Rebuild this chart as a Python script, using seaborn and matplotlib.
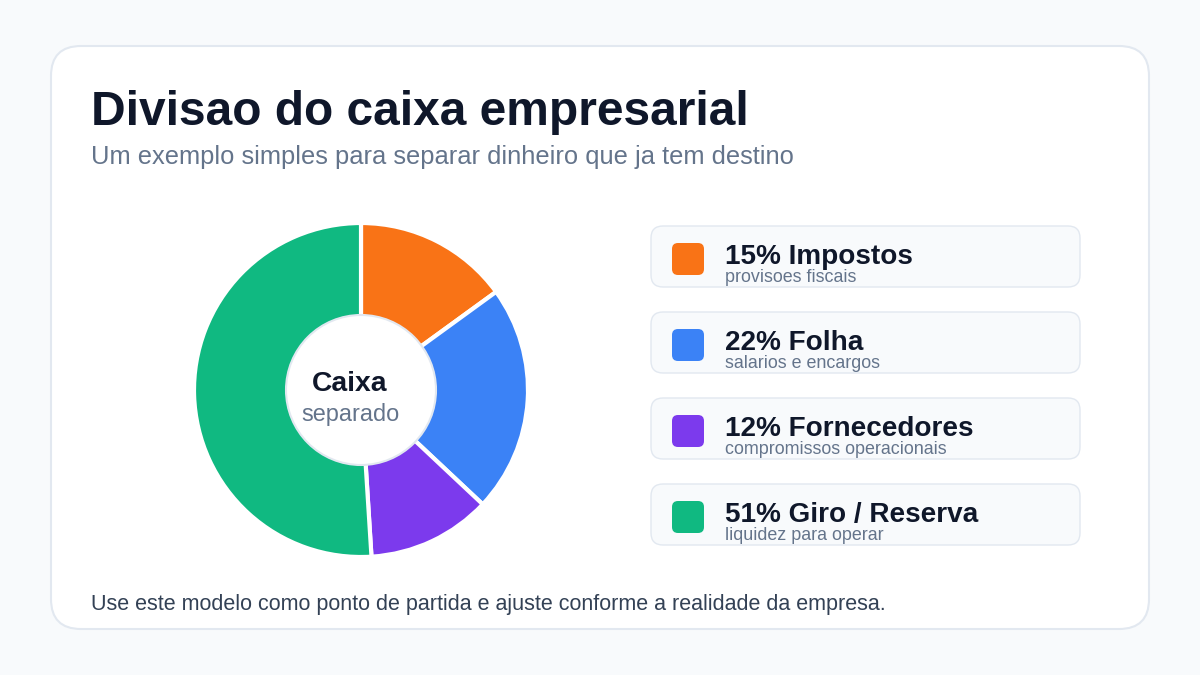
import numpy as np
import seaborn as sns
import matplotlib
matplotlib.use("Agg")
from matplotlib import pyplot as plt
from matplotlib.patches import FancyBboxPatch, Circle

# data
categories = ["Impostos", "Folha", "Fornecedores", "Giro / Reserva"]
shares = [15, 22, 12, 51]
descriptions = ["provisoes fiscais", "salarios e encargos",
                "compromissos operacionais", "liquidez para operar"]
colors = ["#f97316", "#3b82f6", "#7c3aed", "#10b981"]

title = "Divisao do caixa empresarial"
subtitle = "Um exemplo simples para separar dinheiro que ja tem destino"
footer = "Use este modelo como ponto de partida e ajuste conforme a realidade da empresa."

sns.set_theme(style="white")
plt.rcParams['font.family'] = ['Liberation Sans', 'DejaVu Sans']

W, H = 1200, 675
fig = plt.figure(figsize=(12, 6.75), dpi=100, facecolor="#f8fafc")

# background layer in pixel coords
bg = fig.add_axes([0, 0, 1, 1])
bg.set_xlim(0, W)
bg.set_ylim(H, 0)
bg.axis("off")

card = FancyBboxPatch((51, 46), 1098, 583, boxstyle="round,pad=0,rounding_size=30",
                      facecolor="white", edgecolor="#e2e8f0", linewidth=1.5)
bg.add_patch(card)

bg.text(91, 125, title, fontsize=34.5, fontweight="bold", color="#0f172a", va="baseline")
bg.text(91, 164, subtitle, fontsize=18.4, color="#64748b", va="baseline")
bg.text(91, 610, footer, fontsize=15.5, color="#334155", va="baseline")

# legend cards
for i, (cat, val, desc, col) in enumerate(zip(categories, shares, descriptions, colors)):
    y0 = 226 + i * 86
    bg.add_patch(FancyBboxPatch((651, y0), 429, 61, boxstyle="round,pad=0,rounding_size=12",
                                facecolor="#f8fafc", edgecolor="#e2e8f0", linewidth=1))
    bg.add_patch(FancyBboxPatch((672, y0 + 17), 32, 32, boxstyle="round,pad=0,rounding_size=6",
                                facecolor=col, edgecolor="none"))
    bg.text(725, y0 + 38, f"{val}% {cat}", fontsize=20.1, fontweight="bold",
            color="#0f172a", va="baseline")
    bg.text(725, y0 + 56, desc, fontsize=12.9, color="#64748b", va="baseline")

# donut
cx, cy, r = 361, 390, 167
ax = fig.add_axes([(cx - r) / W, (H - cy - r) / H, 2 * r / W, 2 * r / H])
ax.pie(shares, colors=colors, startangle=90, counterclock=False, radius=1,
       wedgeprops=dict(edgecolor="white", linewidth=3))
ax.add_patch(Circle((0, 0), 75 / r, facecolor="white", edgecolor="#e2e8f0", linewidth=1.5, zorder=5))
ax.set_xlim(-1, 1)
ax.set_ylim(-1, 1)
ax.set_aspect("equal")
ax.axis("off")

txt = fig.add_axes([0, 0, 1, 1])
txt.set_xlim(0, W)
txt.set_ylim(H, 0)
txt.axis("off")
txt.text(350, 391, "Caixa", fontsize=20.3, fontweight="bold", color="#0f172a",
         ha="center", va="baseline")
txt.text(351, 421, "separado", fontsize=16.9, color="#64748b", ha="center", va="baseline")

fig.savefig("out.png", dpi=100, facecolor=fig.get_facecolor())
